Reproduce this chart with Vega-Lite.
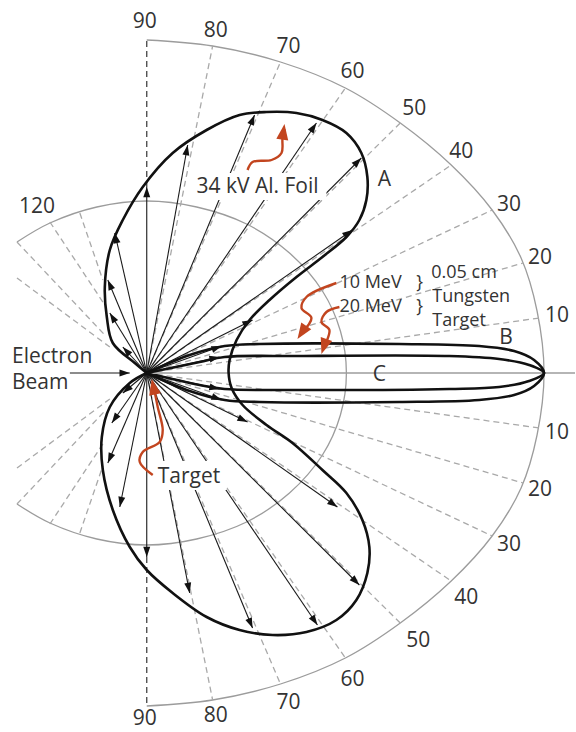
{
"$schema":"https://vega.github.io/schema/vega-lite/v6.json",
"width":576,"height":732,"autosize":{"type":"fit","contains":"padding"},"padding":0,"background":"#ffffff",
"config":{"view":{"stroke":null},"axis":{"disable":true},"legend":{"disable":true}},
"datasets":{
"arcs":[
{"g":"outer","i":0,"x":0,"y":333},{"g":"outer","i":1,"x":66,"y":327},{"g":"outer","i":2,"x":134,"y":311},{"g":"outer","i":3,"x":199,"y":285},{"g":"outer","i":4,"x":254,"y":250},{"g":"outer","i":5,"x":305,"y":208},{"g":"outer","i":6,"x":346,"y":163},{"g":"outer","i":7,"x":375,"y":115},{"g":"outer","i":8,"x":391,"y":62},{"g":"outer","i":9,"x":398,"y":0},{"g":"outer","i":10,"x":391,"y":-62},{"g":"outer","i":11,"x":375,"y":-115},{"g":"outer","i":12,"x":346,"y":-163},{"g":"outer","i":13,"x":305,"y":-208},{"g":"outer","i":14,"x":254,"y":-250},{"g":"outer","i":15,"x":199,"y":-285},{"g":"outer","i":16,"x":134,"y":-311},{"g":"outer","i":17,"x":66,"y":-327},{"g":"outer","i":18,"x":0,"y":-333},
{"g":"inner","i":0,"x":-130,"y":131},{"g":"inner","i":1,"x":-97,"y":150},{"g":"inner","i":2,"x":-50,"y":166},{"g":"inner","i":3,"x":0,"y":172},{"g":"inner","i":4,"x":50,"y":166},{"g":"inner","i":5,"x":100,"y":149},{"g":"inner","i":6,"x":143,"y":120},{"g":"inner","i":7,"x":176,"y":82},{"g":"inner","i":8,"x":194,"y":42},{"g":"inner","i":9,"x":200,"y":0},{"g":"inner","i":10,"x":194,"y":-42},{"g":"inner","i":11,"x":176,"y":-82},{"g":"inner","i":12,"x":143,"y":-120},{"g":"inner","i":13,"x":100,"y":-149},{"g":"inner","i":14,"x":50,"y":-166},{"g":"inner","i":15,"x":0,"y":-172},{"g":"inner","i":16,"x":-50,"y":-166},{"g":"inner","i":17,"x":-97,"y":-150},{"g":"inner","i":18,"x":-130,"y":-131}
],
"lobes":[
{"g":"A","i":0,"x":0,"y":0},{"g":"A","i":1,"x":-12,"y":10},{"g":"A","i":2,"x":-34,"y":30},{"g":"A","i":3,"x":-40,"y":56},{"g":"A","i":4,"x":-42,"y":86},{"g":"A","i":5,"x":-37,"y":123},{"g":"A","i":6,"x":-24,"y":153},{"g":"A","i":7,"x":-4,"y":186},{"g":"A","i":8,"x":26,"y":220},{"g":"A","i":9,"x":60,"y":243},{"g":"A","i":10,"x":93,"y":258},{"g":"A","i":11,"x":120,"y":261},{"g":"A","i":12,"x":150,"y":260},{"g":"A","i":13,"x":176,"y":253},{"g":"A","i":14,"x":200,"y":240},{"g":"A","i":15,"x":215,"y":220},{"g":"A","i":16,"x":221,"y":196},{"g":"A","i":17,"x":220,"y":173},{"g":"A","i":18,"x":213,"y":153},{"g":"A","i":19,"x":200,"y":136},{"g":"A","i":20,"x":176,"y":116},{"g":"A","i":21,"x":150,"y":96},{"g":"A","i":22,"x":123,"y":73},{"g":"A","i":23,"x":103,"y":53},{"g":"A","i":24,"x":90,"y":33},{"g":"A","i":25,"x":83,"y":13},{"g":"A","i":26,"x":82,"y":0},{"g":"A","i":27,"x":85,"y":-15},{"g":"A","i":28,"x":96,"y":-32},{"g":"A","i":29,"x":120,"y":-52},{"g":"A","i":30,"x":146,"y":-70},{"g":"A","i":31,"x":176,"y":-97},{"g":"A","i":32,"x":200,"y":-120},{"g":"A","i":33,"x":216,"y":-147},{"g":"A","i":34,"x":223,"y":-174},{"g":"A","i":35,"x":221,"y":-200},{"g":"A","i":36,"x":210,"y":-227},{"g":"A","i":37,"x":190,"y":-247},{"g":"A","i":38,"x":160,"y":-259},{"g":"A","i":39,"x":126,"y":-262},{"g":"A","i":40,"x":93,"y":-257},{"g":"A","i":41,"x":60,"y":-244},{"g":"A","i":42,"x":26,"y":-220},{"g":"A","i":43,"x":0,"y":-197},{"g":"A","i":44,"x":-17,"y":-174},{"g":"A","i":45,"x":-34,"y":-137},{"g":"A","i":46,"x":-44,"y":-97},{"g":"A","i":47,"x":-45,"y":-64},{"g":"A","i":48,"x":-37,"y":-34},{"g":"A","i":49,"x":-17,"y":-10},{"g":"A","i":50,"x":0,"y":0},
{"g":"B","i":0,"x":0,"y":0},{"g":"B","i":1,"x":43,"y":18},{"g":"B","i":2,"x":78,"y":27},{"g":"B","i":3,"x":113,"y":29},{"g":"B","i":4,"x":253,"y":29},{"g":"B","i":5,"x":333,"y":27},{"g":"B","i":6,"x":368,"y":22},{"g":"B","i":7,"x":388,"y":13},{"g":"B","i":8,"x":398,"y":0},{"g":"B","i":9,"x":388,"y":-13},{"g":"B","i":10,"x":368,"y":-22},{"g":"B","i":11,"x":333,"y":-27},{"g":"B","i":12,"x":253,"y":-29},{"g":"B","i":13,"x":113,"y":-29},{"g":"B","i":14,"x":78,"y":-27},{"g":"B","i":15,"x":43,"y":-18},{"g":"B","i":16,"x":0,"y":0},
{"g":"C","i":0,"x":0,"y":0},{"g":"C","i":1,"x":53,"y":11},{"g":"C","i":2,"x":78,"y":16},{"g":"C","i":3,"x":153,"y":17},{"g":"C","i":4,"x":303,"y":17},{"g":"C","i":5,"x":353,"y":14},{"g":"C","i":6,"x":383,"y":8},{"g":"C","i":7,"x":398,"y":0},{"g":"C","i":8,"x":383,"y":-8},{"g":"C","i":9,"x":353,"y":-14},{"g":"C","i":10,"x":303,"y":-16},{"g":"C","i":11,"x":153,"y":-17},{"g":"C","i":12,"x":78,"y":-16},{"g":"C","i":13,"x":53,"y":-12},{"g":"C","i":14,"x":0,"y":0}
],
"red":[
{"g":"R1","i":0,"x":101,"y":203},{"g":"R1","i":1,"x":106,"y":211},{"g":"R1","i":2,"x":125,"y":213},{"g":"R1","i":3,"x":135,"y":220},{"g":"R1","i":4,"x":136,"y":235},{"g":"R1","i":5,"x":138,"y":244},
{"g":"R2","i":0,"x":190,"y":90},{"g":"R2","i":1,"x":160,"y":76},{"g":"R2","i":2,"x":155,"y":65},{"g":"R2","i":3,"x":165,"y":55},{"g":"R2","i":4,"x":154,"y":39},
{"g":"R3","i":0,"x":193,"y":66},{"g":"R3","i":1,"x":180,"y":61},{"g":"R3","i":2,"x":175,"y":51},{"g":"R3","i":3,"x":183,"y":43},{"g":"R3","i":4,"x":177,"y":25},
{"g":"R4","i":0,"x":6,"y":-102},{"g":"R4","i":1,"x":-7,"y":-89},{"g":"R4","i":2,"x":-4,"y":-79},{"g":"R4","i":3,"x":13,"y":-69},{"g":"R4","i":4,"x":16,"y":-57},{"g":"R4","i":5,"x":11,"y":-34},{"g":"R4","i":6,"x":7,"y":-14}
],
"redheads":[
{"x0":136,"y0":235,"x":138,"y":249},{"x0":165,"y0":55,"x":151,"y":34},{"x0":183,"y0":43,"x":175,"y":19},{"x0":11,"y0":-34,"x":5,"y":-6}
],
"spokes":[
{"x0":0,"y0":0,"x":66,"y":327},{"x0":0,"y0":0,"x":134,"y":311},{"x0":0,"y0":0,"x":199,"y":285},{"x0":0,"y0":0,"x":254,"y":250},{"x0":0,"y0":0,"x":305,"y":208},{"x0":0,"y0":0,"x":346,"y":163},{"x0":0,"y0":0,"x":377,"y":110},{"x0":0,"y0":0,"x":393,"y":55},
{"x0":0,"y0":0,"x":66,"y":-327},{"x0":0,"y0":0,"x":134,"y":-311},{"x0":0,"y0":0,"x":199,"y":-285},{"x0":0,"y0":0,"x":254,"y":-250},{"x0":0,"y0":0,"x":305,"y":-208},{"x0":0,"y0":0,"x":346,"y":-163},{"x0":0,"y0":0,"x":377,"y":-110},{"x0":0,"y0":0,"x":393,"y":-55},
{"x0":-67,"y0":160,"x":-44,"y":93},{"x0":-97,"y0":151,"x":-42,"y":68},{"x0":-130,"y0":131,"x":-42,"y":38},{"x0":-130,"y0":95,"x":-37,"y":26},
{"x0":-67,"y0":-160,"x":-44,"y":-93},{"x0":-97,"y0":-151,"x":-42,"y":-68},{"x0":-130,"y0":-131,"x":-42,"y":-38},{"x0":-130,"y0":-95,"x":-37,"y":-26}
],
"vert":[
{"x0":0,"y0":186,"x":0,"y":333},{"x0":0,"y0":-184,"x":0,"y":-333}
],
"horiz":[
{"x0":0,"y0":0,"x":429,"y":0}
],
"arrows":[
{"x0":0,"y0":0,"x":-24,"y":26},{"x0":0,"y0":0,"x":-37,"y":60},{"x0":0,"y0":0,"x":-39,"y":93},{"x0":0,"y0":0,"x":-32,"y":140},{"x0":0,"y0":0,"x":0,"y":186},{"x0":0,"y0":0,"x":41,"y":228},{"x0":0,"y0":0,"x":108,"y":258},{"x0":0,"y0":0,"x":170,"y":250},{"x0":0,"y0":0,"x":215,"y":215},{"x0":0,"y0":0,"x":206,"y":143},{"x0":0,"y0":0,"x":106,"y":53},{"x0":0,"y0":0,"x":75,"y":27},{"x0":0,"y0":0,"x":73,"y":16},
{"x0":0,"y0":0,"x":73,"y":-16},{"x0":0,"y0":0,"x":75,"y":-27},{"x0":0,"y0":0,"x":101,"y":-49},{"x0":0,"y0":0,"x":191,"y":-134},{"x0":0,"y0":0,"x":213,"y":-212},{"x0":0,"y0":0,"x":171,"y":-252},{"x0":0,"y0":0,"x":106,"y":-255},{"x0":0,"y0":0,"x":43,"y":-220},{"x0":0,"y0":0,"x":0,"y":-184},{"x0":0,"y0":0,"x":-27,"y":-134},{"x0":0,"y0":0,"x":-39,"y":-90},{"x0":0,"y0":0,"x":-35,"y":-50},{"x0":0,"y0":0,"x":-24,"y":-20},
{"x0":-77,"y0":0,"x":-17,"y":0}
],
"masks":[
{"x":43,"x2":180,"y":173,"y2":200},{"x":9,"x2":80,"y":-117,"y2":-88}
],
"labels_c":[
{"t":"90","x":-2,"y":351},{"t":"80","x":69,"y":342},{"t":"70","x":142,"y":326},{"t":"60","x":206,"y":301},{"t":"50","x":268,"y":264},{"t":"40","x":315,"y":221},{"t":"30","x":363,"y":168},{"t":"20","x":394,"y":115},{"t":"10","x":411,"y":57},
{"t":"10","x":411,"y":-60},{"t":"20","x":394,"y":-117},{"t":"30","x":363,"y":-172},{"t":"40","x":320,"y":-225},{"t":"50","x":272,"y":-268},{"t":"60","x":206,"y":-307},{"t":"70","x":142,"y":-330},{"t":"80","x":69,"y":-343},{"t":"90","x":-2,"y":-346},
{"t":"120","x":-110,"y":166},
{"t":"34 kV Al. Foil","x":111,"y":186},{"t":"A","x":238,"y":193},{"t":"B","x":360,"y":35},{"t":"C","x":233,"y":-2}
],
"labels_l":[
{"t":"Electron","x":-135,"y":16},{"t":"Beam","x":-135,"y":-10},{"t":"Target","x":11,"y":-104}
],
"labels_m":[
{"t":"10 MeV","x":193,"y":90},{"t":"20 MeV","x":193,"y":66},{"t":"}","x":270,"y":90},{"t":"}","x":270,"y":66},
{"t":"0.05 cm","x":285,"y":100},{"t":"Tungsten","x":286,"y":76},{"t":"Target","x":286,"y":52}
]
},
"layer":[
{"data":{"name":"arcs"},"mark":{"type":"line","interpolate":"catmull-rom","stroke":"#9c9c9c","strokeWidth":1.3},
 "encoding":{"x":{"field":"x","type":"quantitative","scale":{"domain":[-147,429],"nice":false,"zero":false},"axis":null},
 "y":{"field":"y","type":"quantitative","scale":{"domain":[-359,373],"nice":false,"zero":false},"axis":null},
 "detail":{"field":"g"},"order":{"field":"i","type":"quantitative"}}},
{"data":{"name":"spokes"},"mark":{"type":"rule","stroke":"#a9a9a9","strokeWidth":1.3,"strokeDash":[6,4]},
 "encoding":{"x":{"field":"x0","type":"quantitative","scale":{"domain":[-147,429],"nice":false,"zero":false},"axis":null},
 "y":{"field":"y0","type":"quantitative","scale":{"domain":[-359,373],"nice":false,"zero":false},"axis":null},
 "x2":{"field":"x"},"y2":{"field":"y"}}},
{"data":{"name":"vert"},"mark":{"type":"rule","stroke":"#444444","strokeWidth":1.3,"strokeDash":[6,4]},
 "encoding":{"x":{"field":"x0","type":"quantitative","scale":{"domain":[-147,429],"nice":false,"zero":false},"axis":null},
 "y":{"field":"y0","type":"quantitative","scale":{"domain":[-359,373],"nice":false,"zero":false},"axis":null},
 "x2":{"field":"x"},"y2":{"field":"y"}}},
{"data":{"name":"horiz"},"mark":{"type":"rule","stroke":"#9c9c9c","strokeWidth":1.3},
 "encoding":{"x":{"field":"x0","type":"quantitative","scale":{"domain":[-147,429],"nice":false,"zero":false},"axis":null},
 "y":{"field":"y0","type":"quantitative","scale":{"domain":[-359,373],"nice":false,"zero":false},"axis":null},
 "x2":{"field":"x"},"y2":{"field":"y"}}},
{"data":{"name":"arrows"},"mark":{"type":"rule","stroke":"#1a1a1a","strokeWidth":1.1},
 "encoding":{"x":{"field":"x0","type":"quantitative","scale":{"domain":[-147,429],"nice":false,"zero":false},"axis":null},
 "y":{"field":"y0","type":"quantitative","scale":{"domain":[-359,373],"nice":false,"zero":false},"axis":null},
 "x2":{"field":"x"},"y2":{"field":"y"}}},
{"data":{"name":"lobes"},"mark":{"type":"line","interpolate":"catmull-rom","stroke":"#111111","strokeWidth":2.6},
 "encoding":{"x":{"field":"x","type":"quantitative","scale":{"domain":[-147,429],"nice":false,"zero":false},"axis":null},
 "y":{"field":"y","type":"quantitative","scale":{"domain":[-359,373],"nice":false,"zero":false},"axis":null},
 "detail":{"field":"g"},"order":{"field":"i","type":"quantitative"}}},
{"data":{"name":"arrows"},"transform":[{"calculate":"atan2(datum.x-datum.x0, datum.y-datum.y0)*180/PI","as":"ang"}],
 "mark":{"type":"point","shape":"M0,0L-0.34,1L0.34,1Z","filled":true,"color":"#111111","opacity":1,"size":420,"strokeWidth":0},
 "encoding":{"x":{"field":"x","type":"quantitative","scale":{"domain":[-147,429],"nice":false,"zero":false},"axis":null},
 "y":{"field":"y","type":"quantitative","scale":{"domain":[-359,373],"nice":false,"zero":false},"axis":null},
 "angle":{"field":"ang","type":"quantitative","scale":null}}},
{"data":{"name":"masks"},"mark":{"type":"rect","fill":"#ffffff"},
 "encoding":{"x":{"field":"x","type":"quantitative","scale":{"domain":[-147,429],"nice":false,"zero":false},"axis":null},
 "y":{"field":"y","type":"quantitative","scale":{"domain":[-359,373],"nice":false,"zero":false},"axis":null},
 "x2":{"field":"x2"},"y2":{"field":"y2"}}},
{"data":{"name":"red"},"mark":{"type":"line","interpolate":"catmull-rom","stroke":"#c2451f","strokeWidth":2.4},
 "encoding":{"x":{"field":"x","type":"quantitative","scale":{"domain":[-147,429],"nice":false,"zero":false},"axis":null},
 "y":{"field":"y","type":"quantitative","scale":{"domain":[-359,373],"nice":false,"zero":false},"axis":null},
 "detail":{"field":"g"},"order":{"field":"i","type":"quantitative"}}},
{"data":{"name":"redheads"},"transform":[{"calculate":"atan2(datum.x-datum.x0, datum.y-datum.y0)*180/PI","as":"ang"}],
 "mark":{"type":"point","shape":"M0,0L-0.38,1L0.38,1Z","filled":true,"color":"#c2451f","opacity":1,"size":1000,"strokeWidth":0},
 "encoding":{"x":{"field":"x","type":"quantitative","scale":{"domain":[-147,429],"nice":false,"zero":false},"axis":null},
 "y":{"field":"y","type":"quantitative","scale":{"domain":[-359,373],"nice":false,"zero":false},"axis":null},
 "angle":{"field":"ang","type":"quantitative","scale":null}}},
{"data":{"name":"labels_c"},"mark":{"type":"text","align":"center","baseline":"middle","font":"Open Sans","fontSize":21,"color":"#333333"},
 "encoding":{"x":{"field":"x","type":"quantitative","scale":{"domain":[-147,429],"nice":false,"zero":false},"axis":null},
 "y":{"field":"y","type":"quantitative","scale":{"domain":[-359,373],"nice":false,"zero":false},"axis":null},
 "text":{"field":"t"}}},
{"data":{"name":"labels_l"},"mark":{"type":"text","align":"left","baseline":"middle","font":"Open Sans","fontSize":21,"color":"#333333"},
 "encoding":{"x":{"field":"x","type":"quantitative","scale":{"domain":[-147,429],"nice":false,"zero":false},"axis":null},
 "y":{"field":"y","type":"quantitative","scale":{"domain":[-359,373],"nice":false,"zero":false},"axis":null},
 "text":{"field":"t"}}},
{"data":{"name":"labels_m"},"mark":{"type":"text","align":"left","baseline":"middle","font":"Open Sans","fontSize":18,"color":"#333333"},
 "encoding":{"x":{"field":"x","type":"quantitative","scale":{"domain":[-147,429],"nice":false,"zero":false},"axis":null},
 "y":{"field":"y","type":"quantitative","scale":{"domain":[-359,373],"nice":false,"zero":false},"axis":null},
 "text":{"field":"t"}}}
]
}
